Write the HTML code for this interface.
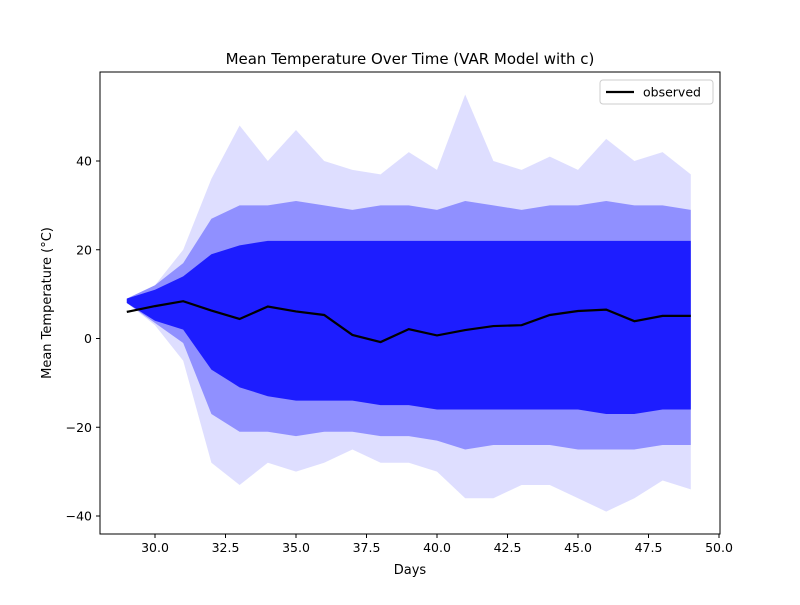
<!DOCTYPE html>
<html><head><meta charset="utf-8"><style>
body{margin:0;background:#fff;font-family:"Liberation Sans","DejaVu Sans",sans-serif}
svg text{font-family:"DejaVu Sans","Liberation Sans",sans-serif}
</style></head><body>
<svg id="c" width="800" height="600"></svg>
<script>
const days=[29,30,31,32,33,34,35,36,37,38,39,40,41,42,43,44,45,46,47,48,49];
const observed=[6,7.3,8.4,6.3,4.4,7.2,6.1,5.3,0.8,-0.8,2.1,0.7,1.9,2.8,3.0,5.3,6.2,6.5,3.9,5.1,5.1];
const simMax=[9,12,20,36,48,40,47,40,38,37,42,38,55,40,38,41,38,45,40,42,37];
const simMin=[8,3,-5,-28,-33,-28,-30,-28,-25,-28,-28,-30,-36,-36,-33,-33,-36,-39,-36,-32,-34];
const midHi=[9,12,17,27,30,30,31,30,29,30,30,29,31,30,29,30,30,31,30,30,29];
const midLo=[8,3.5,-1,-17,-21,-21,-22,-21,-21,-22,-22,-23,-25,-24,-24,-24,-25,-25,-25,-24,-24];
const coreHi=[9,11,14,19,21,22,22,22,22,22,22,22,22,22,22,22,22,22,22,22,22];
const coreLo=[8,4,2,-7,-11,-13,-14,-14,-14,-15,-15,-16,-16,-16,-16,-16,-16,-17,-17,-16,-16];
const xTicks=[30,32.5,35,37.5,40,42.5,45,47.5,50];
const yTicks=[-40,-20,0,20,40];
const L=100,R=720,T=72,B=534;
const X=v=>155+(v-30)*28.2;
const Y=v=>338.5-v*4.4375;
const svg=document.getElementById('c');
const NS='http://www.w3.org/2000/svg';
function mk(t,a,p){const e=document.createElementNS(NS,t);for(const k in a)e.setAttribute(k,a[k]);(p||svg).appendChild(e);return e;}
function txt(s,a){const e=mk('text',a);e.textContent=s;return e;}
mk('rect',{x:0,y:0,width:800,height:600,fill:'#fff'});
function band(hi,lo,op,name){
  let d='';days.forEach((dd,i)=>{d+=(i?'L':'M')+X(dd)+','+Y(hi[i]);});
  for(let i=days.length-1;i>=0;i--)d+='L'+X(days[i])+','+Y(lo[i]);
  const p=mk('path',{d:d+'Z',fill:'#0000ff','fill-opacity':op});
  
  
}
band(simMax,simMin,0.13,'simulation-range-band');
band(midHi,midLo,0.35,'simulation-middle-band');
band(coreHi,coreLo,0.8,'simulation-core-band');
const obs=mk('polyline',{points:days.map((d,i)=>X(d)+','+Y(observed[i])).join(' '),fill:'none',stroke:'#000','stroke-width':2.2});


mk('rect',{x:L,y:T,width:R-L,height:B-T,fill:'none',stroke:'#000','stroke-width':1});
xTicks.forEach(v=>{mk('line',{x1:X(v),x2:X(v),y1:B,y2:B+4,stroke:'#000'});
  const t=txt(v.toFixed(1),{x:X(v),y:B+18,'font-size':12.5,'text-anchor':'middle'});
  });
yTicks.forEach(v=>{mk('line',{x1:L-4,x2:L,y1:Y(v),y2:Y(v),stroke:'#000'});
  const t=txt(v<0?'\u2212'+(-v):''+v,{x:L-8,y:Y(v)+4.5,'font-size':12.5,'text-anchor':'end'});
  });
let t=txt('Mean Temperature Over Time (VAR Model with c)',{x:410,y:64,'font-size':15,'text-anchor':'middle'});

t=txt('Days',{x:410,y:574,'font-size':13,'text-anchor':'middle'});

t=txt('Mean Temperature (°C)',{x:0,y:0,'font-size':13,'text-anchor':'middle',transform:'translate(51,303) rotate(-90)'});

const lg=mk('g',{});


mk('rect',{x:600,y:80,width:113,height:24,rx:3,fill:'#fff',stroke:'#ccc'},lg);
mk('line',{x1:606,x2:634,y1:92,y2:92,stroke:'#000','stroke-width':2.2},lg);
const lt=mk('text',{x:643,y:96.5,'font-size':12.5},lg);lt.textContent='observed';
</script>
</body></html>
